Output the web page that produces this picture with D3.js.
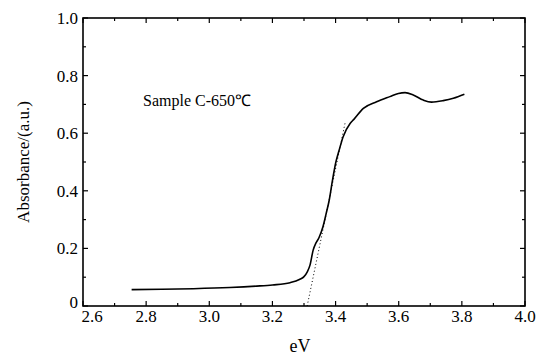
<!DOCTYPE html>
<html>
<head>
<meta charset="utf-8">
<script src="https://cdn.jsdelivr.net/npm/d3@7"></script>
<style>
  body { margin: 0; background: #fff; }
</style>
</head>
<body>
<div id="chart"></div>
<script>
const width = 545;
const height = 356;
const margin = { top: 18, right: 20, bottom: 50, left: 83 };
const serif = "'Liberation Serif', 'Times New Roman', Times, serif";

// absorbance spectrum
const energy = [2.754, 2.85, 2.95, 3.065, 3.15, 3.2, 3.256, 3.287, 3.3, 3.31, 3.319, 3.329, 3.338, 3.347,
  3.36, 3.37, 3.38, 3.39, 3.401, 3.411, 3.424, 3.446, 3.458, 3.488, 3.53, 3.572, 3.599, 3.62,
  3.646, 3.678, 3.704, 3.741, 3.773, 3.808];
const absorbance = [0.057, 0.058, 0.060, 0.064, 0.069, 0.073, 0.081, 0.093, 0.102, 0.118, 0.142, 0.194, 0.219, 0.236,
  0.275, 0.32, 0.368, 0.435, 0.50, 0.54, 0.588, 0.634, 0.648, 0.686, 0.709, 0.727, 0.738, 0.741,
  0.733, 0.715, 0.708, 0.713, 0.721, 0.735];

// tangent used for the band-gap extrapolation
const tangentX = [3.31, 3.43];
const tangentY = [0.0, 0.635];

const xTicks = [2.6, 2.8, 3.0, 3.2, 3.4, 3.6, 3.8, 4.0];
const yTicks = [0, 0.2, 0.4, 0.6, 0.8, 1.0];
const sampleLabel = "Sample C-650\u2103";

const svg = d3.select("#chart").append("svg")
  .attr("width", width).attr("height", height)
  .attr("font-family", serif);

const x = d3.scaleLinear().domain([2.6, 4.0]).range([margin.left, width - margin.right]);
const y = d3.scaleLinear().domain([0, 1.0]).range([height - margin.bottom, margin.top]);

const x0 = x.range()[0], x1 = x.range()[1];
const y0 = y.range()[0], y1 = y.range()[1];

const minorX = d3.range(2.7, 4.0, 0.2);
const minorY = d3.range(0.1, 1.0, 0.2);

// ticks on all four sides, pointing inward
const tickG = svg.append("g").attr("stroke", "#000").attr("stroke-width", 1.2);
function ticks(vals, len) {
  vals.forEach(v => {
    tickG.append("line").attr("x1", x(v)).attr("x2", x(v)).attr("y1", y0).attr("y2", y0 - len);
    tickG.append("line").attr("x1", x(v)).attr("x2", x(v)).attr("y1", y1).attr("y2", y1 + len);
  });
}
function ticksY(vals, len) {
  vals.forEach(v => {
    tickG.append("line").attr("y1", y(v)).attr("y2", y(v)).attr("x1", x0).attr("x2", x0 + len);
    tickG.append("line").attr("y1", y(v)).attr("y2", y(v)).attr("x1", x1).attr("x2", x1 - len);
  });
}
ticks(xTicks, 5);
ticks(minorX, 3);
ticksY(yTicks, 5);
ticksY(minorY, 3);

svg.append("rect")
  .attr("x", x0).attr("y", y1)
  .attr("width", x1 - x0).attr("height", y0 - y1)
  .attr("fill", "none").attr("stroke", "#000").attr("stroke-width", 1.6);

// tick labels
svg.append("g").selectAll("text").data(xTicks).join("text")
  .attr("x", d => d === 2.6 ? x(d) + 9 : x(d))
  .attr("y", y0 + 16)
  .attr("text-anchor", "middle")
  .attr("font-size", 17)
  .text(d => d.toFixed(1));

svg.append("g").selectAll("text").data(yTicks).join("text")
  .attr("x", x0 - 5)
  .attr("y", d => d === 0 ? y(d) + 2 : y(d) + 6)
  .attr("text-anchor", "end")
  .attr("font-size", 17)
  .text(d => d === 0 ? "0" : d.toFixed(1));

svg.append("text")
  .attr("x", (x0 + x1) / 2 - 4)
  .attr("y", height - 4)
  .attr("text-anchor", "middle")
  .attr("font-size", 18)
  .text("eV");

svg.append("text")
  .attr("transform", `translate(29,${(y0 + y1) / 2}) rotate(-90)`)
  .attr("text-anchor", "middle")
  .attr("font-size", 17)
  .text("Absorbance/(a.u.)");

svg.append("text")
  .attr("x", 143)
  .attr("y", 106)
  .attr("font-size", 16)
  .text(sampleLabel);

const line = d3.line().x(d => x(d[0])).y(d => y(d[1])).curve(d3.curveMonotoneX);

svg.append("path")
  .datum(d3.zip(tangentX, tangentY))
  .attr("d", line)
  .attr("fill", "none")
  .attr("stroke", "#000")
  .attr("stroke-width", 1)
  .attr("stroke-dasharray", "1,2.5");

svg.append("path")
  .datum(d3.zip(energy, absorbance))
  .attr("d", line)
  .attr("fill", "none")
  .attr("stroke", "#000")
  .attr("stroke-width", 1.6);
</script>
</body>
</html>
